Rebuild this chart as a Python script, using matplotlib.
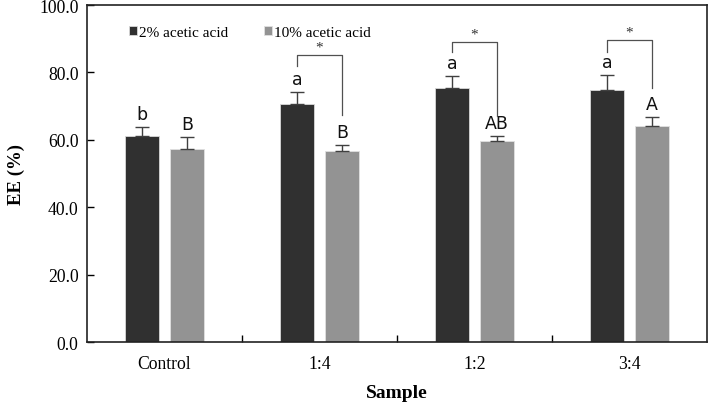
import matplotlib
matplotlib.use("Agg")
import matplotlib.pyplot as plt
import numpy as np

categories = ["Control", "1:4", "1:2", "3:4"]
series_names = ["2% acetic acid", "10% acetic acid"]
acid2 = [61.3, 70.6, 75.5, 74.7]
acid2_err = [2.4, 3.5, 3.4, 4.5]
acid10 = [57.2, 56.8, 59.6, 64.1]
acid10_err = [3.7, 1.7, 1.6, 2.8]
letters2 = ["b", "a", "a", "a"]
letters10 = ["B", "B", "AB", "A"]
bracket_top = [None, 85.3, 89.1, 89.7]
bracket_left_end = [None, 82.0, 86.0, 86.0]
bracket_right_end = [None, 67.5, 67.2, 75.5]
yticks = [0, 20, 40, 60, 80, 100]

dark = "#303030"
gray = "#939393"
serif = ["Liberation Serif", "DejaVu Serif"]

fig = plt.figure(figsize=(7.09, 4.06), dpi=100)
ax = fig.add_axes([0.1227, 0.155, 0.8745, 0.830])

x = np.arange(len(categories))
w = 0.215
off = 0.145
ax.bar(x - off, acid2, w, color=dark, edgecolor="#d8d8d8", linewidth=0.6, label=series_names[0], zorder=2)
ax.bar(x + off, acid10, w, color=gray, edgecolor="#e0e0e0", linewidth=0.6, label=series_names[1], zorder=2)
ax.errorbar(x - off, acid2, yerr=[np.zeros(4), acid2_err], fmt="none", ecolor="#404040", elinewidth=1.0, capsize=5, capthick=1.0, zorder=3)
ax.errorbar(x + off, acid10, yerr=[np.zeros(4), acid10_err], fmt="none", ecolor="#404040", elinewidth=1.0, capsize=5, capthick=1.0, zorder=3)

for i in range(len(categories)):
    ax.text(x[i] - off, acid2[i] + acid2_err[i] + 1.2, letters2[i], ha="center", va="bottom", fontsize=12.5, family=["DejaVu Sans"], color="#111111")
    ax.text(x[i] + off, acid10[i] + acid10_err[i] + 1.2, letters10[i], ha="center", va="bottom", fontsize=12.5, family=["DejaVu Sans"], color="#111111")
    if bracket_top[i] is not None:
        ax.plot([x[i] - off, x[i] - off, x[i] + off, x[i] + off],
                [bracket_left_end[i], bracket_top[i], bracket_top[i], bracket_right_end[i]],
                color="#505050", lw=0.9, zorder=3)
        ax.text(x[i], bracket_top[i] + 0.3, "*", ha="center", va="bottom", fontsize=11, family=serif, color="#333333")

ax.set_xlim(-0.5, 3.5)
ax.set_ylim(0, 100)
ax.set_yticks(yticks)
ax.set_yticklabels([f"{v:.1f}" for v in yticks], fontsize=12.7, family=serif)
ax.set_xticks(x)
ax.set_xticklabels(categories, fontsize=12.7, family=serif)
ax.tick_params(axis="x", length=0, pad=9)
ax.set_xticks([0.5, 1.5, 2.5], minor=True)
ax.tick_params(axis="x", which="minor", direction="in", length=5, width=1)
ax.tick_params(axis="y", direction="in", length=5, width=1, pad=6)
for s in ax.spines.values():
    s.set_linewidth(1.2)
    s.set_color("#222222")

ax.set_ylabel("EE (%)", fontsize=13.5, fontweight="bold", family=serif, labelpad=10)
ax.set_xlabel("Sample", fontsize=14, fontweight="bold", family=serif, labelpad=9)

ax.legend(loc="upper left", bbox_to_anchor=(0.045, 0.98), ncol=2, frameon=False,
          handlelength=0.55, handleheight=0.55, handletextpad=0.15, columnspacing=2.3,
          prop={"family": serif, "size": 11})

fig.savefig("out.png", dpi=100, facecolor="white")
